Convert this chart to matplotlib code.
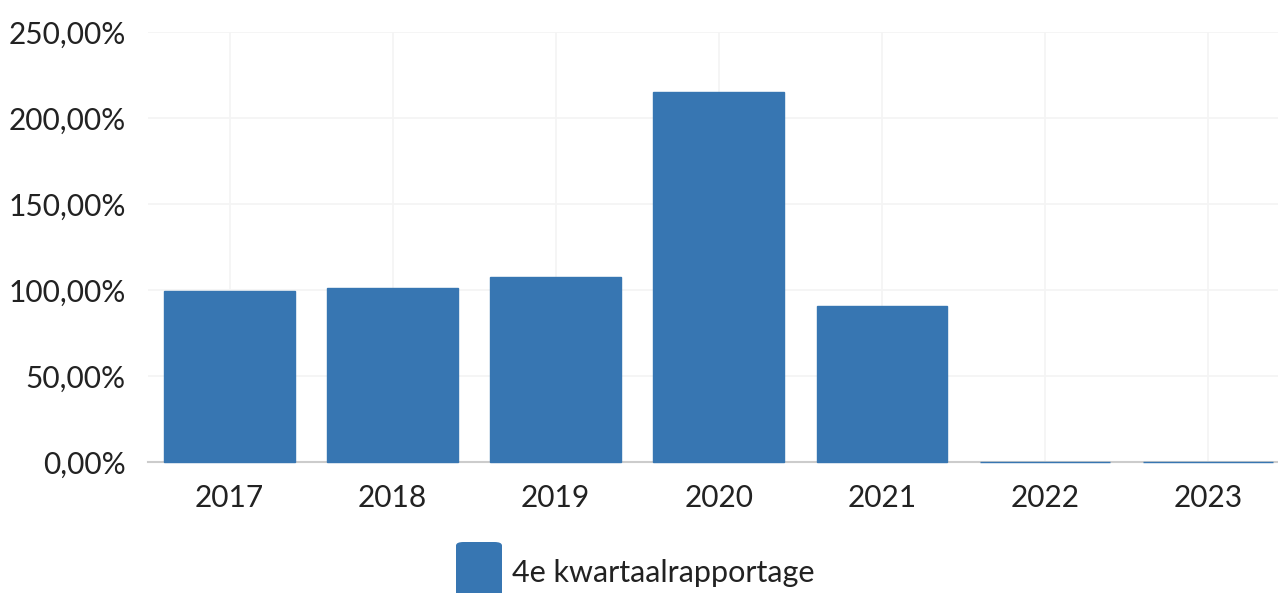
import matplotlib.pyplot as plt
from matplotlib.patches import FancyBboxPatch
from matplotlib.ticker import FuncFormatter

# data
years = ['2017', '2018', '2019', '2020', '2021', '2022', '2023']
values = [99.6, 101.0, 107.5, 215.0, 90.6, 0.0, 0.0]
series_name = '4e kwartaalrapportage'

bar_color = '#3776b2'
text_color = '#222222'

plt.rcParams['font.family'] = ['Lato', 'DejaVu Sans']

W, H = 1278, 593
fig = plt.figure(figsize=(W / 100, H / 100), dpi=100)
ax = fig.add_axes([148 / W, 131 / H, (W - 148) / W, 430 / H])

x = list(range(len(years)))
bars = ax.bar(x, values, width=0.80, color=bar_color, edgecolor=bar_color,
              linewidth=1.0, zorder=3)
for b in bars:
    b.set_clip_on(False)

ax.set_ylim(0, 250)
ax.set_xlim(-0.5, 6.43)
ax.set_yticks([0, 50, 100, 150, 200, 250])
ax.yaxis.set_major_formatter(FuncFormatter(lambda v, p: f'{v:.2f}'.replace('.', ',') + '%'))
ax.set_xticks(x)
ax.set_xticklabels(years)

ax.grid(True, color='#f4f4f4', linewidth=1.2, zorder=0)
ax.set_axisbelow(True)
for s in ['top', 'right', 'left']:
    ax.spines[s].set_visible(False)
ax.spines['bottom'].set_color('#cccccc')
ax.spines['bottom'].set_linewidth(1.5)
ax.spines['bottom'].set_zorder(2)

ax.tick_params(axis='both', length=0, labelsize=21.5, colors=text_color)
ax.tick_params(axis='y', pad=16)
ax.tick_params(axis='x', pad=16)

# legend
patch = FancyBboxPatch((456 / W, -10 / H), 46 / W, 61 / H,
                       boxstyle='round,pad=0,rounding_size=0.006',
                       transform=fig.transFigure, facecolor=bar_color,
                       edgecolor='none', clip_on=False)
fig.patches.append(patch)
fig.text(512 / W, 20 / H, series_name, fontsize=22, color=text_color,
         va='center', ha='left')

fig.savefig('out.png', dpi=100)
